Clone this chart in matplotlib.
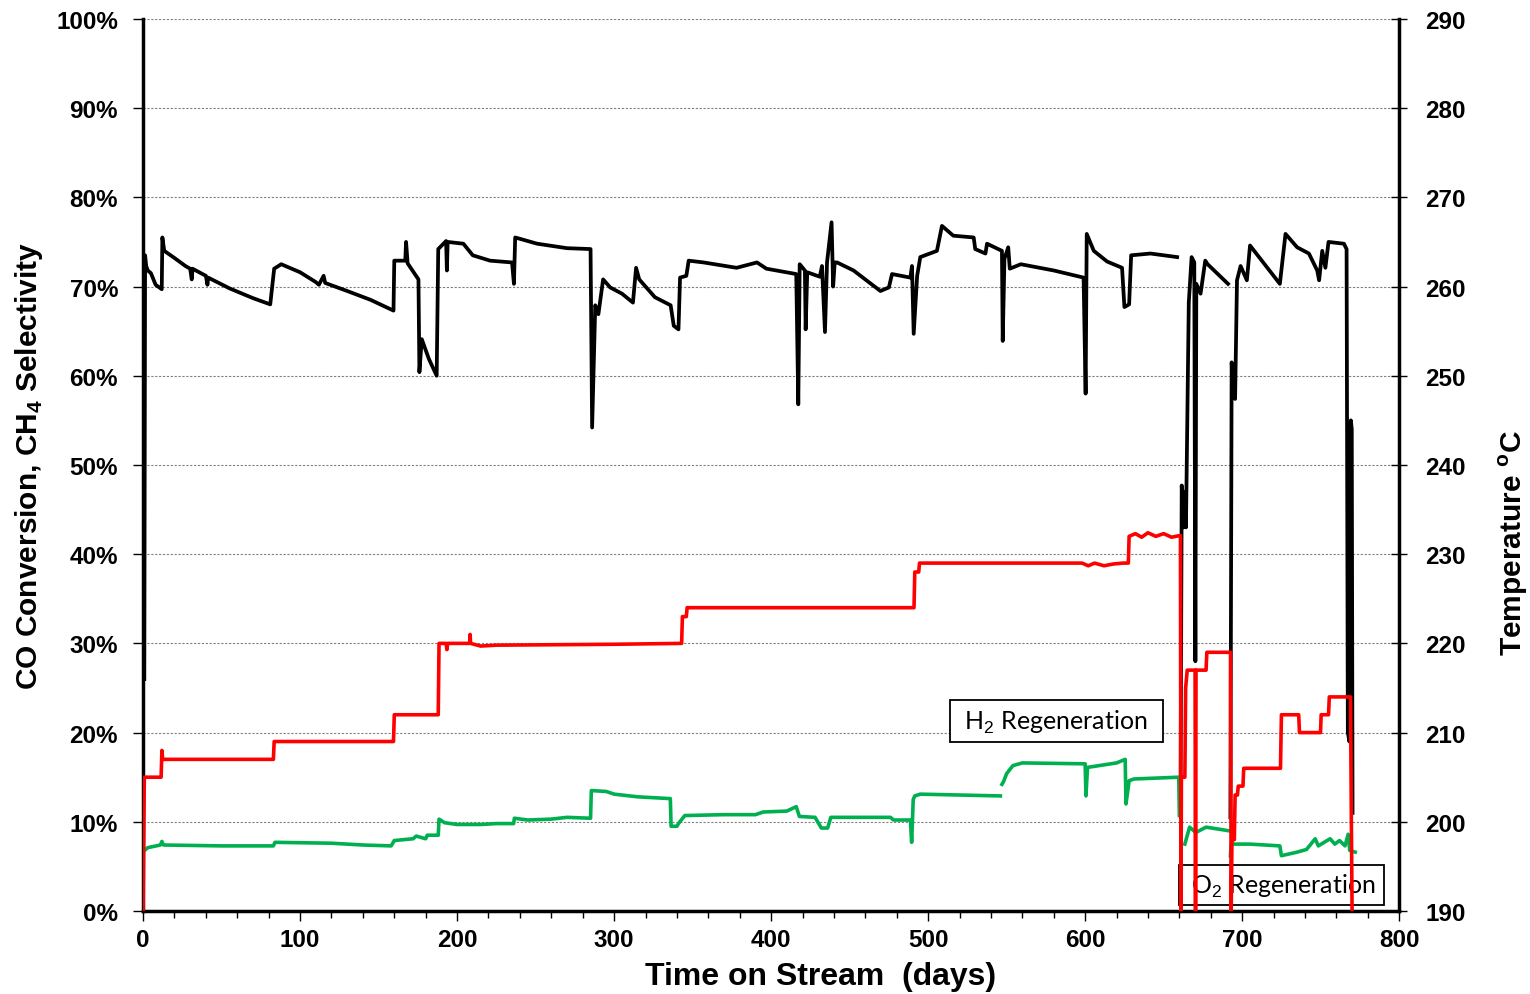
import numpy as np
import matplotlib
matplotlib.use("Agg")
import matplotlib.pyplot as plt
from matplotlib.ticker import MultipleLocator, FuncFormatter

plt.rcParams['font.family'] = ['Liberation Sans', 'DejaVu Sans']
plt.rcParams['mathtext.fontset'] = 'custom'
plt.rcParams['mathtext.rm'] = 'Liberation Sans'
plt.rcParams['mathtext.bf'] = 'Liberation Sans:bold'

nan = np.nan

# CO conversion (%), black, left axis -- (day, %)
co_conv = [
    (0.8, 26), (1.3, 73.5), (2, 72.3), (3, 71.8), (5, 71.5), (8, 70.2), (11.9, 69.7),
    (12.3, 75.5), (13.5, 74), (20, 73.2), (27, 72.3), (30, 72), (31, 70.8), (31.5, 72),
    (40, 71.2), (41, 70.2), (41.5, 71), (55, 69.8), (70, 68.7), (81, 68), (83.5, 72),
    (88, 72.5), (100, 71.6), (110, 70.5), (112, 70.2), (115, 71.2), (116, 70.4),
    (130, 69.5), (145, 68.5), (159.5, 67.3), (160, 72.9), (167, 72.9), (167.5, 75),
    (168.5, 72.6), (175.4, 70.8), (176, 60.4), (177.5, 64.1), (182, 61.9), (187, 60),
    (188, 74.2), (193, 75.1), (193.5, 71.8), (194, 75), (204, 74.8), (210, 73.5),
    (221, 72.9), (235, 72.7), (236.2, 70.3), (237, 75.5), (251, 74.8), (270, 74.3),
    (285, 74.2), (286, 54.2), (288, 67.9), (290, 66.9), (293, 70.8), (297.5, 69.9),
    (305, 69.2), (312, 68.2), (314, 72.1), (316, 70.8), (326, 68.8), (336, 67.9),
    (338, 65.6), (341, 65.2), (342, 71), (346, 71.2), (347.5, 72.9), (357, 72.7),
    (378, 72.1), (391, 72.7), (397, 72), (416, 71.4), (417.3, 56.8), (418.2, 72.5),
    (421.5, 71.8), (422, 65.2), (423, 71.6), (431, 71.1), (432.4, 72.3), (434.3, 64.9),
    (435.6, 72.7), (438.5, 77.2), (439.5, 70), (440.5, 72.7), (442, 72.7),
    (452.5, 71.8), (469.6, 69.5), (475, 69.9), (477, 71.4), (488.7, 71), (489.7, 72.3),
    (490.8, 64.7), (493, 71.2), (495, 73.3), (505.6, 74), (508.8, 76.8), (516, 75.7),
    (529, 75.5), (530, 74.2), (536.5, 73.7), (537.5, 74.8), (547, 74), (547.5, 63.9),
    (548.6, 73.1), (551, 74.4), (552, 72), (559, 72.5), (580, 71.8), (599, 71),
    (600.3, 58), (601, 75.9), (605.5, 74), (614, 72.8), (623.5, 72.1), (625, 67.7),
    (628, 68), (629.3, 73.5), (641.6, 73.7), (650, 73.5), (658.6, 73.3), (nan, nan),
    (660.8, 15), (661.5, 47.7), (662.5, 43), (663.3, 47), (664.2, 43), (666, 68.2),
    (667.8, 73.3), (669.5, 72.7), (670.2, 28), (670.8, 70.3), (673.5, 69.2),
    (676.5, 72.9), (678, 72.5), (691, 70.3), (nan, nan),
    (692.5, 10.5), (693.3, 61.5), (694.2, 58), (694.8, 61), (695.5, 57.4),
    (696.7, 70.7), (699, 72.3), (703, 70.7), (705, 74.6), (724, 70.3), (727.6, 75.9),
    (735, 74.4), (742.5, 73.7), (747.8, 71.8), (749, 70.7), (751, 74), (753, 72.1),
    (755, 75), (764.8, 74.8), (766.5, 74.2), (767.3, 20), (768.3, 19), (769.2, 55),
    (769.8, 54), (770.3, 11),
]

# CH4 selectivity (%), green, left axis
ch4_sel = [
    (1, 6.8), (3, 7.1), (11, 7.4), (12, 7.8), (13, 7.4), (50, 7.3), (83, 7.3), (84, 7.7),
    (120, 7.6), (140, 7.4), (158, 7.3), (160, 7.9), (172, 8.1), (174, 8.4), (180, 8.1),
    (181, 8.5), (188, 8.5), (188.5, 10.3), (192, 9.9), (200, 9.7), (215, 9.7),
    (225, 9.8), (236, 9.8), (236.5, 10.4), (245, 10.2), (260, 10.3), (270, 10.5),
    (285, 10.4), (285.5, 13.5), (295, 13.4), (300, 13.1), (315, 12.8), (335.8, 12.6),
    (336.3, 9.5), (340, 9.5), (341, 9.8), (345, 10.7), (370, 10.8), (390, 10.8),
    (395, 11.1), (410, 11.2), (416, 11.7), (418, 10.6), (428, 10.5), (432, 9.3),
    (436, 9.3), (438, 10.5), (476, 10.5), (478, 10.2), (488.7, 10.2), (489.5, 7.7),
    (490.5, 12.5), (491.5, 12.9), (495, 13.1), (546, 12.9), (nan, nan),
    (547, 14.2), (548, 14.5), (550, 15.4), (554, 16.3), (560, 16.6), (600, 16.5),
    (600.5, 12.9), (601.5, 16.1), (620, 16.6), (625.5, 17), (626, 12), (628, 14.6),
    (631, 14.8), (659.6, 15), (660, 10.7), (nan, nan),
    (663.5, 7.5), (666.5, 9.4), (670.5, 8.8), (677, 9.4), (691.4, 9), (nan, nan),
    (692.5, 6.2), (693, 7.5), (705, 7.5), (724, 7.3), (725, 6.2), (735, 6.6),
    (741, 6.9), (746.5, 8.1), (748.5, 7.3), (756, 8.1), (759, 7.5), (762, 7.9),
    (765.5, 7.3), (767.5, 8.6), (768.5, 6.8), (772, 6.6),
]

# temperature (degC), red, right axis
temperature = [
    (0, 190), (0.8, 205), (11.5, 205), (12, 208), (12.5, 207), (83, 207), (83.5, 209),
    (159.5, 209), (160, 212), (188, 212), (188.5, 220), (193, 220), (193.5, 219.3),
    (194, 220), (208, 220), (208.3, 221), (208.6, 220), (215, 219.7), (225, 219.8),
    (300, 219.9), (343, 220), (343.5, 223), (346, 223), (346.5, 224), (491, 224),
    (491.5, 228), (494, 228), (494.5, 229), (598, 229), (602, 228.7), (606, 229),
    (612, 228.7), (618, 228.9), (624, 229), (627.5, 229), (628, 232), (632, 232.3),
    (636, 231.9), (640, 232.4), (645, 232), (650, 232.3), (655, 231.9), (660.7, 232.1),
    (661, 190), (661.3, 205), (663.5, 205), (664, 215), (665, 217), (670, 217),
    (670.3, 190), (670.6, 217), (677, 217), (677.5, 219), (692.6, 219), (693, 190),
    (693.5, 198), (695, 198), (695.5, 203), (697, 203), (697.5, 204), (700.5, 204),
    (701, 206), (724.4, 206), (725, 212), (736, 212), (736.5, 210), (749.9, 210),
    (750.3, 212), (755, 212), (755.5, 214), (769, 214), (769.5, 201), (770, 190),
]

x_ticks = [0, 100, 200, 300, 400, 500, 600, 700, 800]

co = np.array(co_conv)
ch4 = np.array(ch4_sel)
tt = np.array(temperature)

fig = plt.figure(figsize=(15.3, 9.95), dpi=100)
ax1 = fig.add_axes([0.0935, 0.0834, 0.821, 0.8966])
ax2 = ax1.twinx()

ax1.plot(co[:, 0], co[:, 1], color='black', lw=2.7, zorder=3)
ax1.plot(ch4[:, 0], ch4[:, 1], color='#00b050', lw=2.6, zorder=3)
ax2.plot(tt[:, 0], tt[:, 1], color='#ff0000', lw=2.6, zorder=3)

ax1.set_xlim(0, 800)
ax1.set_ylim(0, 100)
ax2.set_ylim(190, 290)

ax1.set_xticks(x_ticks)
ax1.xaxis.set_minor_locator(MultipleLocator(20))
ax1.yaxis.set_major_locator(MultipleLocator(10))
ax1.yaxis.set_major_formatter(FuncFormatter(lambda v, p: f"{v:.0f}%"))
ax2.yaxis.set_major_locator(MultipleLocator(10))

ax1.grid(axis='y', color='#808080', linestyle=(0, (2, 1.5)), lw=0.8)

for s in ['left', 'bottom']:
    ax1.spines[s].set_linewidth(2.5)
ax1.spines['top'].set_visible(False)
ax2.spines['top'].set_visible(False)
ax2.spines['right'].set_linewidth(2.5)
ax1.spines['right'].set_visible(False)

ax1.tick_params(axis='y', which='major', labelsize=17.5, direction='out', length=7,
                width=1, pad=11)
ax1.tick_params(axis='x', which='major', labelsize=17.5, direction='out', length=7,
                width=1, pad=5)
ax1.tick_params(axis='x', which='minor', direction='out', length=5, width=1)
ax2.tick_params(axis='y', which='major', labelsize=17.5, direction='inout', length=12,
                width=1, pad=13)
for lab in ax1.get_xticklabels() + ax1.get_yticklabels() + ax2.get_yticklabels():
    lab.set_fontweight('bold')

ax1.set_xlabel("Time on Stream  (days)", fontsize=23, fontweight='bold')
ax1.xaxis.set_label_coords(0.539, -0.056)
ax1.set_ylabel(r"CO Conversion, CH$_\mathbf{4}$ Selectivity", fontsize=21.5,
               fontweight='bold', labelpad=8)
ax2.set_ylabel(r"Temperature $^\mathbf{o}$C", fontsize=21.5, fontweight='bold')
ax2.yaxis.set_label_coords(1.078, 0.414)

ax1.text(582, 21.3, r" H$_2$ Regeneration  ", ha='center', va='center', fontsize=18,
         family=['Lato', 'DejaVu Sans'], zorder=5,
         bbox=dict(boxstyle='square,pad=0.3', fc='white', ec='black', lw=1.3))
ax1.text(725, 2.9, r" O$_2$ Regeneration ", ha='center', va='center', fontsize=18,
         family=['Lato', 'DejaVu Sans'], zorder=5,
         bbox=dict(boxstyle='square,pad=0.25', fc='none', ec='black', lw=1.3))

fig.savefig("out.png", dpi=100)
